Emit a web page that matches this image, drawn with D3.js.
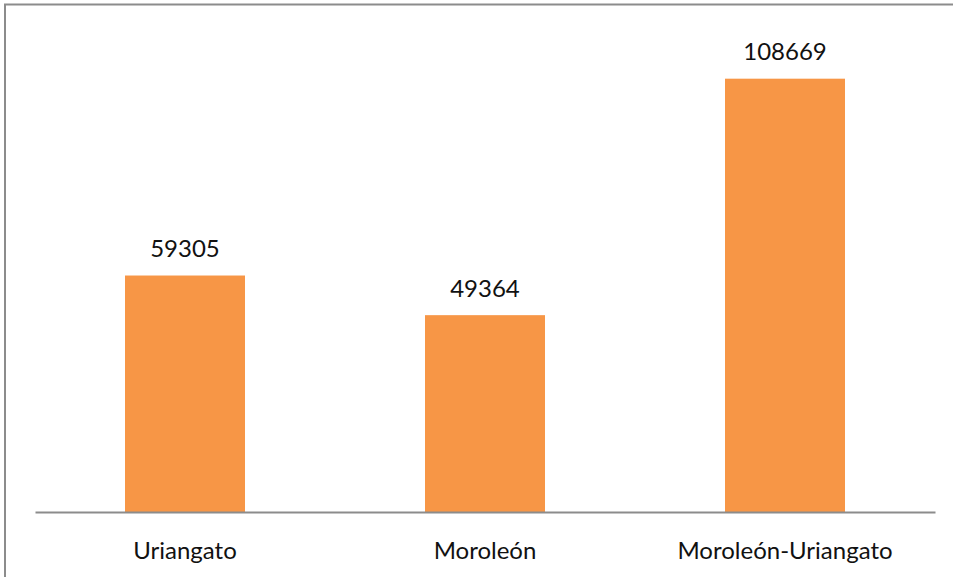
<!DOCTYPE html>
<html>
<head>
<meta charset="utf-8">
<script src="https://cdn.jsdelivr.net/npm/d3@7"></script>
<style>
  html, body { margin: 0; padding: 0; background: #fff; }
  svg { display: block; }
</style>
</head>
<body>
<div id="chart"></div>
<script>
var categories = ["Uriangato", "Moroleón", "Moroleón-Uriangato"];
var values = [59305, 49364, 108669];
var yMax = 120000;

var W = 953, H = 577;
var margin = { left: 35, right: 18, top: 33.5, bottom: 65 };

var svg = d3.select("#chart").append("svg")
    .attr("width", W)
    .attr("height", H);

// frame (only top and left edges show in the picture)
svg.append("path")
    .attr("d", "M5,577 L5,4.5 L953,4.5")
    .attr("fill", "none")
    .attr("stroke", "#8c8c8c")
    .attr("stroke-width", 2);

var x = d3.scaleBand()
    .domain(categories)
    .range([margin.left, W - margin.right])
    .paddingInner(0.6)
    .paddingOuter(0.3);

var y = d3.scaleLinear()
    .domain([0, yMax])
    .range([H - margin.bottom, margin.top]);

var data = categories.map(function(c, i) { return { cat: c, val: values[i] }; });

svg.selectAll("rect.bar")
    .data(data)
    .enter().append("rect")
    .attr("class", "bar")
    .attr("x", function(d) { return x(d.cat); })
    .attr("y", function(d) { return y(d.val); })
    .attr("width", x.bandwidth())
    .attr("height", function(d) { return y(0) - y(d.val); })
    .attr("fill", "#F79646");

// value labels
svg.selectAll("text.val")
    .data(data)
    .enter().append("text")
    .attr("class", "val")
    .attr("x", function(d) { return x(d.cat) + x.bandwidth() / 2; })
    .attr("y", function(d) { return y(d.val) - 18.5; })
    .attr("text-anchor", "middle")
    .style("font-family", "Lato, 'Open Sans', sans-serif")
    .style("font-size", "24px")
    .attr("fill", "#111")
    .text(function(d) { return d.val; });

// x axis
var xAxis = svg.append("g")
    .attr("transform", "translate(0," + y(0) + ")")
    .call(d3.axisBottom(x).tickSize(0).tickPadding(30));

xAxis.select(".domain")
    .attr("stroke", "#8c8c8c")
    .attr("stroke-width", 2);

xAxis.selectAll("text")
    .style("font-family", "Lato, 'Open Sans', sans-serif")
    .style("font-size", "24px")
    .attr("fill", "#111");
</script>
</body>
</html>
